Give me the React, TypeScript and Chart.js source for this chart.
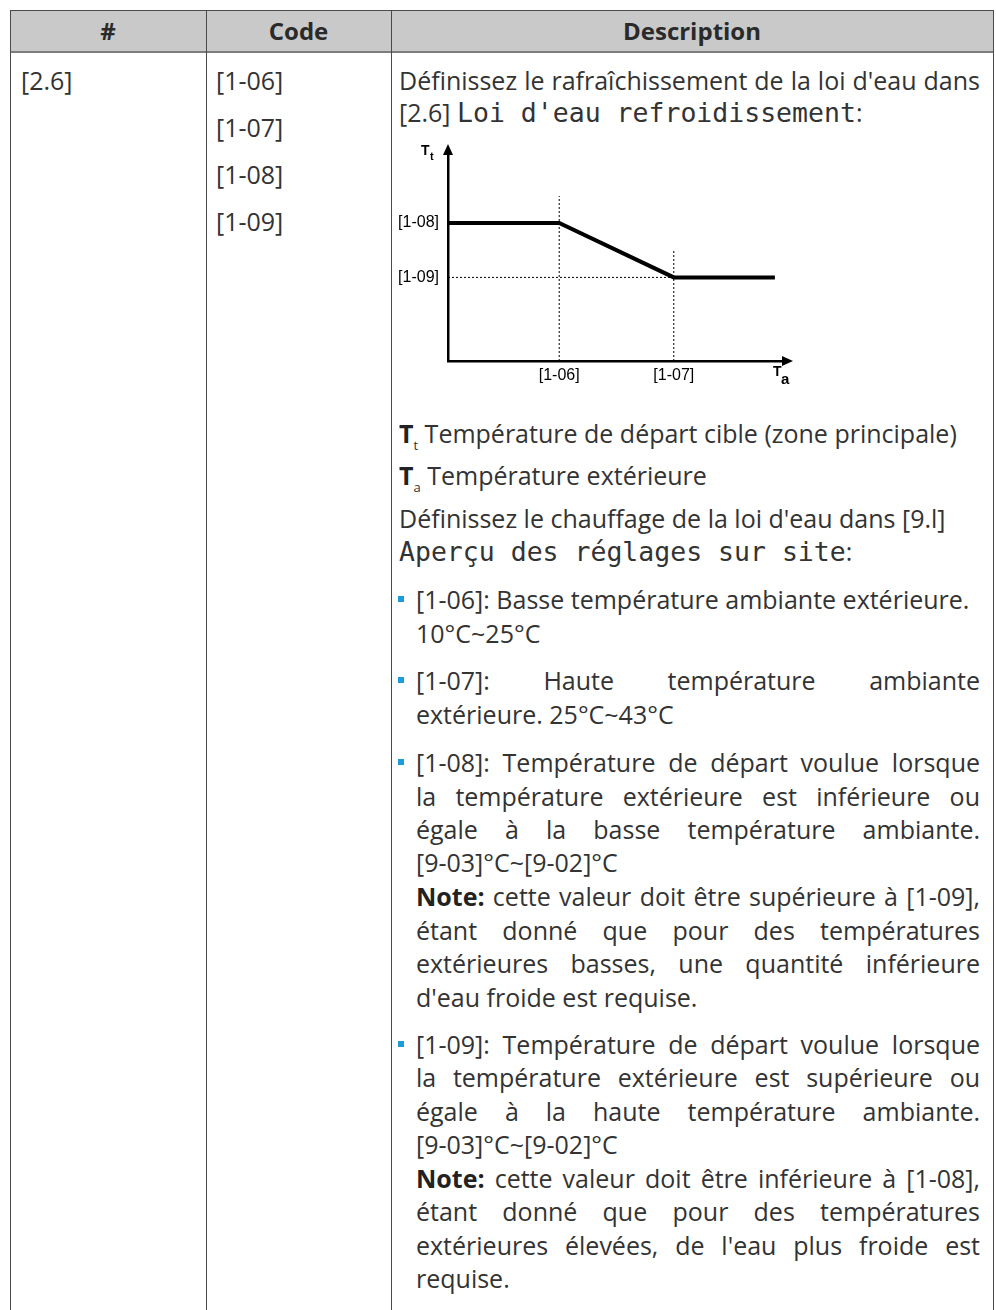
import React, { useEffect, useRef } from "react";
import { Chart, registerables } from "chart.js";

Chart.register(...registerables);

// ---- chart data (scale units: both axes 0..100) ----
const xTickValues = [33, 67];
const xTickLabels = ["[1-06]", "[1-07]"];
const yTickValues = [66, 40];
const yTickLabels = ["[1-08]", "[1-09]"];
const curveX = [0, 33, 67, 97];
const curveY = [66, 66, 40, 40];
const guideTops = [79, 53];
const yAxisTitle = ["T", "t"];
const xAxisTitle = ["T", "a"];

const TEXT = "#333333";
const BODY_FONT = "'Open Sans', sans-serif";
const MONO_FONT = "'DejaVu Sans Mono', monospace";
const BODY_SIZE = 25;

const arrowPlugin = {
  id: "arrows",
  afterDraw(chart: any) {
    const { ctx, chartArea } = chart;
    const { left, right, top, bottom } = chartArea;
    ctx.save();
    ctx.fillStyle = "#000";
    ctx.beginPath();
    ctx.moveTo(left, top - 8);
    ctx.lineTo(left - 5, top + 3);
    ctx.lineTo(left + 5, top + 3);
    ctx.closePath();
    ctx.fill();
    ctx.beginPath();
    ctx.moveTo(right + 8, bottom);
    ctx.lineTo(right - 3, bottom - 5);
    ctx.lineTo(right - 3, bottom + 5);
    ctx.closePath();
    ctx.fill();
    // axis titles
    ctx.textBaseline = "alphabetic";
    ctx.textAlign = "left";
    ctx.font = "bold 14px 'Liberation Sans', Arial, sans-serif";
    ctx.fillText(yAxisTitle[0], left - 27, top + 3);
    ctx.font = "bold 11px 'Liberation Sans', Arial, sans-serif";
    ctx.fillText(yAxisTitle[1], left - 18, top + 8);
    ctx.font = "bold 14px 'Liberation Sans', Arial, sans-serif";
    ctx.fillText(xAxisTitle[0], right - 12, bottom + 15);
    ctx.font = "bold 15px 'Liberation Sans', Arial, sans-serif";
    ctx.fillText(xAxisTitle[1], right - 4, bottom + 23);
    ctx.restore();
  },
};

function WaterLawChart() {
  const ref = useRef<HTMLCanvasElement | null>(null);
  useEffect(() => {
    if (!ref.current) return;
    const guide = {
      borderColor: "#000",
      borderWidth: 1,
      borderDash: [2, 2],
      pointRadius: 0,
      showLine: true,
      fill: false,
    };
    const chart = new Chart(ref.current, {
      type: "scatter",
      data: {
        datasets: [
          {
            data: curveX.map((x, i) => ({ x, y: curveY[i] })),
            borderColor: "#000",
            borderWidth: 4,
            pointRadius: 0,
            showLine: true,
            fill: false,
            borderJoinStyle: "miter",
          } as any,
          {
            ...guide,
            data: [
              { x: xTickValues[0], y: 0 },
              { x: xTickValues[0], y: guideTops[0] },
            ],
          },
          {
            ...guide,
            data: [
              { x: xTickValues[1], y: 0 },
              { x: xTickValues[1], y: guideTops[1] },
            ],
          },
          {
            ...guide,
            data: [
              { x: 0, y: yTickValues[1] },
              { x: xTickValues[1], y: yTickValues[1] },
            ],
          },
        ],
      },
      options: {
        animation: false,
        responsive: false,
        maintainAspectRatio: false,
        layout: { padding: { top: 22, right: 26, left: 0, bottom: 0 } },
        plugins: { legend: { display: false }, tooltip: { enabled: false } },
        scales: {
          x: {
            type: "linear",
            min: 0,
            max: 100,
            grid: { display: false, drawTicks: false, tickLength: 0 },
            border: { display: true, color: "#000", width: 2.5 },
            ticks: {
              padding: 5,
              autoSkip: false,
              maxRotation: 0,
              color: "#000",
              font: { family: "'Liberation Sans', Arial, sans-serif", size: 16 },
              callback: (v: any) => {
                const i = xTickValues.indexOf(Number(v));
                return i >= 0 ? xTickLabels[i] : "";
              },
            },
            afterBuildTicks: (s: any) => {
              s.ticks = xTickValues.map((v) => ({ value: v }));
            },
            afterFit: (s: any) => {
              s.height = 39;
            },
          },
          y: {
            type: "linear",
            min: 0,
            max: 100,
            grid: { display: false, drawTicks: false, tickLength: 0 },
            border: { display: true, color: "#000", width: 2.5 },
            ticks: {
              padding: 9,
              autoSkip: false,
              color: "#000",
              font: { family: "'Liberation Sans', Arial, sans-serif", size: 16 },
              callback: (v: any) => {
                const i = yTickValues.indexOf(Number(v));
                return i >= 0 ? yTickLabels[i] : "";
              },
            },
            afterBuildTicks: (s: any) => {
              s.ticks = yTickValues.map((v) => ({ value: v }));
            },
            afterFit: (s: any) => {
              s.width = 57;
            },
          },
        },
      } as any,
      plugins: [arrowPlugin],
    });
    return () => chart.destroy();
  }, []);
  return (
    <canvas
      ref={ref}
      width={420}
      height={270}
      style={{ position: "absolute", left: 391, top: 130, width: 420, height: 270 }}
    />
  );
}

type LineProps = {
  cy: number;
  left: number;
  width?: number;
  justify?: boolean;
  children: React.ReactNode;
};

function Line({ cy, left, width, justify, children }: LineProps) {
  return (
    <div
      style={{
        position: "absolute",
        left,
        top: cy - 17,
        width: width ?? 980 - left,
        height: 34,
        lineHeight: "34px",
        whiteSpace: "nowrap",
        textAlign: justify ? "justify" : "left",
        textAlignLast: justify ? "justify" : "left",
        fontFamily: BODY_FONT,
        fontSize: BODY_SIZE,
        color: TEXT,
      } as any}
    >
      {children}
    </div>
  );
}

function Bullet({ cy }: { cy: number }) {
  return (
    <div
      style={{
        position: "absolute",
        left: 398,
        top: cy - 3,
        width: 6,
        height: 6,
        background: "#1b9ddb",
      }}
    />
  );
}

const Mono = ({ children }: { children: React.ReactNode }) => (
  <span style={{ fontFamily: MONO_FONT, fontSize: 26.5 }}>{children}</span>
);

const Sub = ({ children }: { children: React.ReactNode }) => (
  <span style={{ fontSize: 13, position: "relative", top: 7 }}>{children}</span>
);

const DL = 399;
const BL = 416;

export default function App() {
  const vline = (x: number) => (
    <div
      style={{
        position: "absolute",
        left: x,
        top: 10,
        width: 1,
        height: 1300,
        background: "#4a4a4a",
      }}
    />
  );
  const head = (text: string, l: number, r: number) => (
    <div
      style={{
        position: "absolute",
        left: l,
        width: r - l,
        top: 10,
        height: 42,
        lineHeight: "42px",
        textAlign: "center",
        fontFamily: BODY_FONT,
        fontWeight: 700,
        fontSize: 24,
        color: "#2a2a2a",
      }}
    >
      {text}
    </div>
  );
  return (
    <div
      style={{
        position: "absolute",
        left: 0,
        top: 0,
        width: 996,
        height: 1310,
        background: "#fff",
        overflow: "hidden",
      }}
    >
      <div
        style={{
          position: "absolute",
          left: 10,
          top: 10,
          width: 984,
          height: 41,
          background: "#c9c9c9",
          borderTop: "1px solid #4a4a4a",
          boxSizing: "border-box",
        }}
      />
      <div
        style={{ position: "absolute", left: 10, top: 51, width: 984, height: 2, background: "#7d7d7d" }}
      />
      {vline(10)}
      {vline(206)}
      {vline(391)}
      {vline(993)}
      {head("#", 10, 206)}
      {head("Code", 206, 391)}
      {head("Description", 391, 993)}

      <Line cy={80} left={21}>[2.6]</Line>
      <Line cy={80} left={216}>[1-06]</Line>
      <Line cy={127} left={216}>[1-07]</Line>
      <Line cy={174} left={216}>[1-08]</Line>
      <Line cy={221} left={216}>[1-09]</Line>

      <Line cy={80} left={DL} justify>
        Définissez le rafraîchissement de la loi d'eau dans
      </Line>
      <Line cy={112} left={DL}>
        [2.6] <Mono>Loi d'eau refroidissement</Mono>:
      </Line>

      <WaterLawChart />

      <Line cy={433} left={DL}>
        <b style={{ color: "#222" }}>T</b>
        <Sub>t</Sub> Température de départ cible (zone principale)
      </Line>
      <Line cy={475} left={DL}>
        <b style={{ color: "#222" }}>T</b>
        <Sub>a</Sub> Température extérieure
      </Line>
      <Line cy={518} left={DL}>
        Définissez le chauffage de la loi d'eau dans [9.l]
      </Line>
      <Line cy={551} left={DL}>
        <Mono>Aperçu des réglages sur site</Mono>:
      </Line>

      <Bullet cy={599} />
      <Line cy={599} left={BL}>
        [1-06]: Basse température ambiante extérieure.
      </Line>
      <Line cy={633} left={BL}>10°C~25°C</Line>

      <Bullet cy={680} />
      <Line cy={680} left={BL} justify>
        [1-07]: Haute température ambiante
      </Line>
      <Line cy={714} left={BL}>extérieure. 25°C~43°C</Line>

      <Bullet cy={762} />
      <Line cy={762} left={BL} justify>
        [1-08]: Température de départ voulue lorsque
      </Line>
      <Line cy={796} left={BL} justify>
        la température extérieure est inférieure ou
      </Line>
      <Line cy={829} left={BL} justify>
        égale à la basse température ambiante.
      </Line>
      <Line cy={862} left={BL}>[9-03]°C~[9-02]°C</Line>
      <Line cy={896} left={BL} justify>
        <b style={{ color: "#222" }}>Note:</b> cette valeur doit être supérieure à [1-09],
      </Line>
      <Line cy={930} left={BL} justify>
        étant donné que pour des températures
      </Line>
      <Line cy={963} left={BL} justify>
        extérieures basses, une quantité inférieure
      </Line>
      <Line cy={997} left={BL}>d'eau froide est requise.</Line>

      <Bullet cy={1044} />
      <Line cy={1044} left={BL} justify>
        [1-09]: Température de départ voulue lorsque
      </Line>
      <Line cy={1077} left={BL} justify>
        la température extérieure est supérieure ou
      </Line>
      <Line cy={1111} left={BL} justify>
        égale à la haute température ambiante.
      </Line>
      <Line cy={1144} left={BL}>[9-03]°C~[9-02]°C</Line>
      <Line cy={1178} left={BL} justify>
        <b style={{ color: "#222" }}>Note:</b> cette valeur doit être inférieure à [1-08],
      </Line>
      <Line cy={1211} left={BL} justify>
        étant donné que pour des températures
      </Line>
      <Line cy={1245} left={BL} justify>
        extérieures élevées, de l'eau plus froide est
      </Line>
      <Line cy={1278} left={BL}>requise.</Line>
    </div>
  );
}
